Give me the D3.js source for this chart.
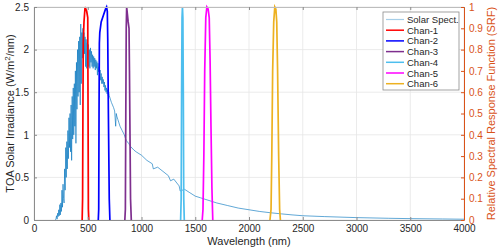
<!DOCTYPE html>
<html>
<head>
<meta charset="utf-8">
<script src="https://cdn.jsdelivr.net/npm/d3@7"></script>
<style>
  body { margin: 0; background: #fff; }
  text { font-family: "Liberation Sans", Arial, sans-serif; }
</style>
</head>
<body>
<svg id="chart" width="500" height="251"></svg>
<script>
// solar spectrum (nm, W/m2/nm)
var solarWl = [200,205,210,215,220,225,230,235,240,245,250,255,260,265,270,275,280,285,290,295,
  300,305,310,315,320,325,330,335,340,345,350,355,360,365,370,375,380,385,390,395,
  400,405,410,415,420,425,430,435,440,445,450,455,460,465,470,475,480,485,490,495,
  500,505,510,515,520,525,530,535,540,545,550,555,560,565,570,575,580,585,590,595,
  600,605,610,615,620,625,630,635,640,645,650,655,660,665,670,675,680,685,690,695,
  700,710,720,730,740,750,760,765,770,780,790,800,820,840,850,860,880,900,930,950,
  1000,1050,1100,1110,1150,1200,1250,1270,1300,1350,1360,1400,1450,1500,1550,1600,1650,1700,1800,1900,
  2000,2100,2200,2300,2400,2500,2700,3000,3300,3500,3800,4000];
var solarIrr = [0.00,0.02,0.05,0.01,0.08,0.04,0.12,0.05,0.18,0.06,0.20,0.10,0.35,0.15,0.42,0.25,0.20,0.60,0.35,0.85,
  0.50,0.92,0.60,1.05,0.72,1.20,0.85,1.25,0.80,1.35,0.70,1.45,0.95,1.55,1.00,1.60,1.10,1.75,0.90,1.85,
  1.30,2.00,1.45,2.10,1.50,2.15,1.35,2.30,1.60,2.20,1.90,2.25,1.85,2.20,1.95,2.15,1.80,2.12,1.78,2.08,
  1.88,2.06,1.80,2.00,1.78,2.02,1.85,1.98,1.80,1.94,1.78,1.92,1.80,1.90,1.76,1.88,1.78,1.86,1.70,1.84,
  1.74,1.80,1.70,1.76,1.64,1.72,1.60,1.68,1.60,1.65,1.56,1.62,1.52,1.58,1.50,1.55,1.48,1.53,1.46,1.50,
  1.46,1.42,1.38,1.35,1.32,1.28,1.10,1.25,1.22,1.18,1.14,1.10,1.05,1.00,0.96,0.93,0.90,0.86,0.82,0.80,
  0.76,0.70,0.66,0.60,0.62,0.57,0.52,0.46,0.48,0.40,0.34,0.36,0.32,0.28,0.26,0.24,0.22,0.20,0.17,0.14,
  0.12,0.10,0.085,0.072,0.06,0.05,0.04,0.028,0.02,0.016,0.012,0.009];

// spectral response functions (nm, relative)
var chan1Wl = [448,452,455,458,465,475,490,500,503,506,510];
var chan1Rsp = [0,0.1,0.5,0.83,0.93,1,0.98,0.95,0.5,0.05,0];
var chan2Wl = [598,602,605,608,612,625,645,665,675,682,686,692,700,706];
var chan2Rsp = [0,0.05,0.5,0.83,0.88,0.93,0.96,0.99,1,0.98,0.85,0.5,0.1,0];
var chan3Wl = [845,850,854,858,862,868,876,884,888,893,898,905];
var chan3Rsp = [0,0.05,0.5,0.9,1,0.97,0.93,0.9,0.7,0.4,0.1,0];
var chan4Wl = [1364,1369,1373,1377,1381,1385,1389,1393,1398];
var chan4Rsp = [0,0.1,0.6,0.95,1,0.95,0.6,0.1,0];
var chan5Wl = [1565,1572,1580,1588,1598,1608,1620,1630,1638,1646,1655,1663];
var chan5Rsp = [0,0.05,0.3,0.7,0.95,1,0.99,0.95,0.75,0.45,0.15,0];
var chan6Wl = [2195,2205,2212,2220,2230,2240,2250,2258,2266,2276,2285,2292];
var chan6Rsp = [0,0.05,0.3,0.7,0.93,1,0.99,0.93,0.7,0.3,0.05,0];

var chanNames = ["Chan-1","Chan-2","Chan-3","Chan-4","Chan-5","Chan-6"];
var chanColors = ["#ff0000","#0000ff","#7e2f8e","#4dbeee","#ff00ff","#edb120"];
var chanWl = [chan1Wl,chan2Wl,chan3Wl,chan4Wl,chan5Wl,chan6Wl];
var chanRsp = [chan1Rsp,chan2Rsp,chan3Rsp,chan4Rsp,chan5Rsp,chan6Rsp];

var xTicks = [0,500,1000,1500,2000,2500,3000,3500,4000];
var yTicks = [0,0.5,1,1.5,2,2.5];
var y2Ticks = [0,0.1,0.2,0.3,0.4,0.5,0.6,0.7,0.8,0.9,1];

var pL = 34, pR = 464, pT = 7, pB = 220;
var orange = "#d95319", axisGray = "#262626";

var svg = d3.select("#chart");
var x = d3.scaleLinear().domain([0,4000]).range([pL,pR]);
var y = d3.scaleLinear().domain([0,2.5]).range([pB,pT]);
var y2 = d3.scaleLinear().domain([0,1]).range([pB,pT]);

// grid
svg.append("g").selectAll("line").data(xTicks).enter().append("line")
  .attr("x1", d => x(d)).attr("x2", d => x(d)).attr("y1", pT).attr("y2", pB)
  .attr("stroke", "#e6e6e6").attr("stroke-width", 0.8);
svg.append("g").selectAll("line").data(yTicks).enter().append("line")
  .attr("x1", pL).attr("x2", pR).attr("y1", d => y(d)).attr("y2", d => y(d))
  .attr("stroke", "#e6e6e6").attr("stroke-width", 0.8);

// solar spectrum
var solarData = solarWl.map((w,i) => [w, solarIrr[i]]);
var line = d3.line().x(d => x(d[0])).y(d => y(d[1]));
svg.append("path").datum(solarData).attr("d", line)
  .attr("fill", "none").attr("stroke", "#0072bd").attr("stroke-width", 1)
  .attr("stroke-opacity", 0.62);

// SRF curves
var line2 = d3.line().x(d => x(d[0])).y(d => y2(d[1]));
chanNames.forEach(function(n, k) {
  var dat = chanWl[k].map((w,i) => [w, chanRsp[k][i]]);
  svg.append("path").datum(dat).attr("d", line2)
    .attr("fill", "none").attr("stroke", chanColors[k]).attr("stroke-width", 1.7);
});

// axes
var gx = svg.append("g").attr("transform", "translate(0," + pB + ")")
  .call(d3.axisBottom(x).tickValues(xTicks).tickSizeInner(-3).tickSizeOuter(0).tickPadding(5)
    .tickFormat(d3.format("d")));
var gxTop = svg.append("g").attr("transform", "translate(0," + pT + ")")
  .call(d3.axisTop(x).tickValues(xTicks).tickSizeInner(-3).tickSizeOuter(0).tickFormat(""));
var gy = svg.append("g").attr("transform", "translate(" + pL + ",0)")
  .call(d3.axisLeft(y).tickValues(yTicks).tickSizeInner(-3).tickSizeOuter(0).tickPadding(5)
    .tickFormat(d3.format("")));
var gy2 = svg.append("g").attr("transform", "translate(" + pR + ",0)")
  .call(d3.axisRight(y2).tickValues(y2Ticks).tickSizeInner(-3).tickSizeOuter(0).tickPadding(5)
    .tickFormat(d3.format("")));

[gx, gxTop, gy].forEach(function(g) {
  g.select(".domain").attr("stroke", "#8c8c8c");
  g.selectAll(".tick line").attr("stroke", "#8c8c8c");
  g.selectAll("text").attr("fill", axisGray).style("font-size", "10px")
    .style("font-family", "Liberation Sans, Arial, sans-serif");
});
gxTop.select(".domain").attr("stroke", "#bdbdbd");
gy2.select(".domain").attr("stroke", orange);
gy2.selectAll(".tick line").attr("stroke", orange);
gy2.selectAll("text").attr("fill", orange).style("font-size", "10px")
  .style("font-family", "Liberation Sans, Arial, sans-serif");

// labels
svg.append("text").attr("x", (pL + pR) / 2).attr("y", 245)
  .attr("text-anchor", "middle").style("font-size", "11px").attr("fill", axisGray)
  .text("Wavelength (nm)");

var yl = svg.append("text").attr("transform", "translate(14," + ((pT + pB) / 2) + ") rotate(-90)")
  .attr("text-anchor", "middle").style("font-size", "11px").attr("fill", axisGray);
yl.append("tspan").text("TOA Solar Irradiance (W/m");
yl.append("tspan").attr("dy", -4).style("font-size", "8px").text("2");
yl.append("tspan").attr("dy", 4).text("/nm)");

svg.append("text").attr("transform", "translate(495," + ((pT + pB) / 2) + ") rotate(-90)")
  .attr("text-anchor", "middle").style("font-size", "11px").attr("fill", orange)
  .text("Relative Spectral Response Function (SRF)");

// legend
var legX = 383, legY = 12, legW = 76, legH = 78;
var lg = svg.append("g");
lg.append("rect").attr("x", legX).attr("y", legY).attr("width", legW).attr("height", legH)
  .attr("fill", "#fff").attr("stroke", "#8c8c8c").attr("stroke-width", 0.8);
var legNames = ["Solar Spect."].concat(chanNames);
var legColors = ["#0072bd"].concat(chanColors);
legNames.forEach(function(n, i) {
  var yy = legY + 7.5 + i * 10.7;
  lg.append("line").attr("x1", legX + 3).attr("x2", legX + 21).attr("y1", yy).attr("y2", yy)
    .attr("stroke", legColors[i]).attr("stroke-width", i == 0 ? 1.2 : 1.5)
    .attr("stroke-opacity", i == 0 ? 0.35 : 1);
  lg.append("text").attr("x", legX + 24).attr("y", yy + 3.5)
    .style("font-size", "9.5px").attr("fill", axisGray).text(n);
});
</script>
</body>
</html>
